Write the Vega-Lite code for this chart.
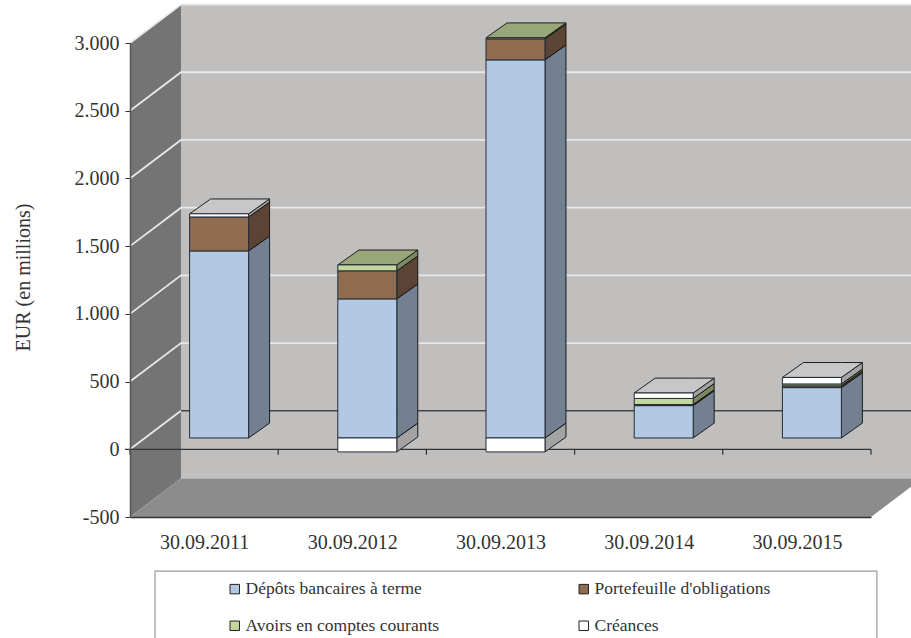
{
"$schema":"https://vega.github.io/schema/vega-lite/v6.json",
"width":741,"height":474,"autosize":"none",
"padding":{"left":130,"top":43,"right":40,"bottom":121},
"background":"#ffffff",
"config":{"view":{"stroke":null},"font":"Liberation Serif"},
"datasets":{
"bars":[
{"date":"30.09.2011","series":"Dépôts bancaires à terme","rank":1,"value":1381},
{"date":"30.09.2011","series":"Portefeuille d'obligations","rank":2,"value":251},
{"date":"30.09.2011","series":"Créances","rank":4,"value":23},
{"date":"30.09.2012","series":"Dépôts bancaires à terme","rank":1,"value":1027},
{"date":"30.09.2012","series":"Portefeuille d'obligations","rank":2,"value":207},
{"date":"30.09.2012","series":"Avoirs en comptes courants","rank":3,"value":44},
{"date":"30.09.2012","series":"Créances","rank":4,"value":-103},
{"date":"30.09.2013","series":"Dépôts bancaires à terme","rank":1,"value":2792},
{"date":"30.09.2013","series":"Portefeuille d'obligations","rank":2,"value":155},
{"date":"30.09.2013","series":"Avoirs en comptes courants","rank":3,"value":8},
{"date":"30.09.2013","series":"Créances","rank":4,"value":-103},
{"date":"30.09.2014","series":"Dépôts bancaires à terme","rank":1,"value":239},
{"date":"30.09.2014","series":"Portefeuille d'obligations","rank":2,"value":8},
{"date":"30.09.2014","series":"Avoirs en comptes courants","rank":3,"value":45},
{"date":"30.09.2014","series":"Créances","rank":4,"value":40},
{"date":"30.09.2015","series":"Dépôts bancaires à terme","rank":1,"value":372},
{"date":"30.09.2015","series":"Portefeuille d'obligations","rank":2,"value":13},
{"date":"30.09.2015","series":"Avoirs en comptes courants","rank":3,"value":14},
{"date":"30.09.2015","series":"Créances","rank":4,"value":48}
],
"sides":[
{"id":"a1","series":"Dépôts bancaires à terme","x":0.699,"lo":0,"hi":1381},{"id":"a1","series":"Dépôts bancaires à terme","x":0.8407,"lo":110,"hi":1491},
{"id":"a2","series":"Portefeuille d'obligations","x":0.699,"lo":1381,"hi":1632},{"id":"a2","series":"Portefeuille d'obligations","x":0.8407,"lo":1491,"hi":1742},
{"id":"a4","series":"Créances","x":0.699,"lo":1632,"hi":1655},{"id":"a4","series":"Créances","x":0.8407,"lo":1742,"hi":1765},
{"id":"b4","series":"Créances","x":1.699,"lo":-103,"hi":0},{"id":"b4","series":"Créances","x":1.8407,"lo":7,"hi":110},
{"id":"b1","series":"Dépôts bancaires à terme","x":1.699,"lo":0,"hi":1027},{"id":"b1","series":"Dépôts bancaires à terme","x":1.8407,"lo":110,"hi":1137},
{"id":"b2","series":"Portefeuille d'obligations","x":1.699,"lo":1027,"hi":1234},{"id":"b2","series":"Portefeuille d'obligations","x":1.8407,"lo":1137,"hi":1344},
{"id":"b3","series":"Avoirs en comptes courants","x":1.699,"lo":1234,"hi":1278},{"id":"b3","series":"Avoirs en comptes courants","x":1.8407,"lo":1344,"hi":1388},
{"id":"c4","series":"Créances","x":2.699,"lo":-103,"hi":0},{"id":"c4","series":"Créances","x":2.8407,"lo":7,"hi":110},
{"id":"c1","series":"Dépôts bancaires à terme","x":2.699,"lo":0,"hi":2792},{"id":"c1","series":"Dépôts bancaires à terme","x":2.8407,"lo":110,"hi":2902},
{"id":"c2","series":"Portefeuille d'obligations","x":2.699,"lo":2792,"hi":2947},{"id":"c2","series":"Portefeuille d'obligations","x":2.8407,"lo":2902,"hi":3057},
{"id":"c3","series":"Avoirs en comptes courants","x":2.699,"lo":2947,"hi":2955},{"id":"c3","series":"Avoirs en comptes courants","x":2.8407,"lo":3057,"hi":3065},
{"id":"d1","series":"Dépôts bancaires à terme","x":3.699,"lo":0,"hi":239},{"id":"d1","series":"Dépôts bancaires à terme","x":3.8407,"lo":110,"hi":349},
{"id":"d2","series":"Portefeuille d'obligations","x":3.699,"lo":239,"hi":247},{"id":"d2","series":"Portefeuille d'obligations","x":3.8407,"lo":349,"hi":357},
{"id":"d3","series":"Avoirs en comptes courants","x":3.699,"lo":247,"hi":292},{"id":"d3","series":"Avoirs en comptes courants","x":3.8407,"lo":357,"hi":402},
{"id":"d4","series":"Créances","x":3.699,"lo":292,"hi":332},{"id":"d4","series":"Créances","x":3.8407,"lo":402,"hi":442},
{"id":"e1","series":"Dépôts bancaires à terme","x":4.699,"lo":0,"hi":372},{"id":"e1","series":"Dépôts bancaires à terme","x":4.8407,"lo":110,"hi":482},
{"id":"e2","series":"Portefeuille d'obligations","x":4.699,"lo":372,"hi":385},{"id":"e2","series":"Portefeuille d'obligations","x":4.8407,"lo":482,"hi":495},
{"id":"e3","series":"Avoirs en comptes courants","x":4.699,"lo":385,"hi":399},{"id":"e3","series":"Avoirs en comptes courants","x":4.8407,"lo":495,"hi":509},
{"id":"e4","series":"Créances","x":4.699,"lo":399,"hi":447},{"id":"e4","series":"Créances","x":4.8407,"lo":509,"hi":557}
],
"tops":[
{"id":"a","series":"Créances","x":0.301,"lo":1655,"hi":1655},{"id":"a","series":"Créances","x":0.4427,"lo":1655,"hi":1765},{"id":"a","series":"Créances","x":0.699,"lo":1655,"hi":1765},{"id":"a","series":"Créances","x":0.8407,"lo":1765,"hi":1765},
{"id":"b","series":"Avoirs en comptes courants","x":1.301,"lo":1278,"hi":1278},{"id":"b","series":"Avoirs en comptes courants","x":1.4427,"lo":1278,"hi":1388},{"id":"b","series":"Avoirs en comptes courants","x":1.699,"lo":1278,"hi":1388},{"id":"b","series":"Avoirs en comptes courants","x":1.8407,"lo":1388,"hi":1388},
{"id":"c","series":"Avoirs en comptes courants","x":2.301,"lo":2955,"hi":2955},{"id":"c","series":"Avoirs en comptes courants","x":2.4427,"lo":2955,"hi":3065},{"id":"c","series":"Avoirs en comptes courants","x":2.699,"lo":2955,"hi":3065},{"id":"c","series":"Avoirs en comptes courants","x":2.8407,"lo":3065,"hi":3065},
{"id":"d","series":"Créances","x":3.301,"lo":332,"hi":332},{"id":"d","series":"Créances","x":3.4427,"lo":332,"hi":442},{"id":"d","series":"Créances","x":3.699,"lo":332,"hi":442},{"id":"d","series":"Créances","x":3.8407,"lo":442,"hi":442},
{"id":"e","series":"Créances","x":4.301,"lo":447,"hi":447},{"id":"e","series":"Créances","x":4.4427,"lo":447,"hi":557},{"id":"e","series":"Créances","x":4.699,"lo":447,"hi":557},{"id":"e","series":"Créances","x":4.8407,"lo":557,"hi":557}
]
},
"resolve":{"scale":{"x":"independent","y":"independent"}},
"layer":[
{
"encoding":{
"x":{"field":"x","type":"quantitative","scale":{"domain":[0,5],"nice":false,"zero":false},
"axis":{"values":[0.5,1.5,2.5,3.5,4.5],"labelExpr":"['30.09.2011','30.09.2012','30.09.2013','30.09.2014','30.09.2015'][floor(datum.value)]","title":null,"grid":false,"tickSize":0,"labelPadding":15,"labelFontSize":20,"labelFont":"Liberation Serif","labelColor":"#333333","domainColor":"#333333","domainWidth":1.5,"zindex":1,"labelOverlap":false,"labelFlush":false}},
"y":{"field":"lo","type":"quantitative","stack":null,"scale":{"domain":[-500,3000],"nice":false,"zero":false},
"axis":{"values":[-500,0,500,1000,1500,2000,2500,3000],"labelExpr":"(datum.value<0?'-':'')+replace(format(abs(datum.value),','),',','.')","title":"EUR (en millions)","titleFont":"Liberation Serif","titleFontSize":20,"titleFontWeight":"normal","titleColor":"#333333","titleX":-97,"titleY":234,"titleAnchor":"middle","grid":false,"tickSize":5,"tickColor":"#333333","labelPadding":6,"labelFontSize":20,"labelFont":"Liberation Serif","labelColor":"#333333","domainColor":"#555555","domainWidth":1.5,"zindex":1,"labelOverlap":false}}
},
"layer":[
{"data":{"values":[{"x":0,"lo":-500,"hi":3000},{"x":0.344,"lo":-216,"hi":3284}]},"mark":{"type":"area","orient":"vertical","fill":"#747474"},"encoding":{"y2":{"field":"hi"}}},
{"data":{"values":[{"x":0.344,"lo":-216,"hi":3284},{"x":5.4,"lo":-216,"hi":3284}]},"mark":{"type":"area","orient":"vertical","fill":"#c0bfbd"},"encoding":{"y2":{"field":"hi"}}},
{"data":{"values":[{"x":0,"lo":-500,"hi":-500},{"x":0.344,"lo":-500,"hi":-216},{"x":5,"lo":-500,"hi":-216},{"x":5.344,"lo":-216,"hi":-216}]},"mark":{"type":"area","orient":"vertical","fill":"#8c8c8c"},"encoding":{"y2":{"field":"hi"}}},
{"data":{"values":[
{"v":"g0","x":0,"lo":0},{"v":"g0","x":0.344,"lo":284},
{"v":"g1","x":0,"lo":500},{"v":"g1","x":0.344,"lo":784},{"v":"g1","x":5.4,"lo":784},
{"v":"g2","x":0,"lo":1000},{"v":"g2","x":0.344,"lo":1284},{"v":"g2","x":5.4,"lo":1284},
{"v":"g3","x":0,"lo":1500},{"v":"g3","x":0.344,"lo":1784},{"v":"g3","x":5.4,"lo":1784},
{"v":"g4","x":0,"lo":2000},{"v":"g4","x":0.344,"lo":2284},{"v":"g4","x":5.4,"lo":2284},
{"v":"g5","x":0,"lo":2500},{"v":"g5","x":0.344,"lo":2784},{"v":"g5","x":5.4,"lo":2784},
{"v":"g6","x":0,"lo":3000},{"v":"g6","x":0.344,"lo":3284},{"v":"g6","x":5.4,"lo":3284}
]},"mark":{"type":"line","stroke":"#e8e8e8","strokeWidth":1.8},"encoding":{"detail":{"field":"v"}}},
{"data":{"values":[{"x":0.344,"lo":284},{"x":5.4,"lo":284}]},"mark":{"type":"line","stroke":"#444444","strokeWidth":1.5}},
{"data":{"values":[{"x":-0.034,"lo":0},{"x":5,"lo":0}]},"mark":{"type":"line","stroke":"#333333","strokeWidth":1.3}},
{"data":{"values":[{"x":0,"lo":0,"hi":-40},{"x":1,"lo":0,"hi":-40},{"x":2,"lo":0,"hi":-40},{"x":3,"lo":0,"hi":-40},{"x":4,"lo":0,"hi":-40},{"x":5,"lo":0,"hi":-40}]},"mark":{"type":"rule","stroke":"#333333","strokeWidth":1.2},"encoding":{"y2":{"field":"hi"}}},
{"data":{"values":[{"x":0.1687,"x2":5.04,"lo":-899,"hi":-1410}]},"mark":{"type":"rect","fill":"#ffffff","stroke":"#999999","strokeWidth":1.2},"encoding":{"x2":{"field":"x2"},"y2":{"field":"hi"}}}
]
},
{
"encoding":{
"x":{"field":"x","type":"quantitative","axis":null,"scale":{"domain":[-0.1012,4.8988],"nice":false,"zero":false}},
"y":{"field":"lo","type":"quantitative","stack":null,"axis":null,"scale":{"domain":[-583.5,2916.5],"nice":false,"zero":false}},
"y2":{"field":"hi"},
"detail":{"field":"id"}
},
"layer":[
{"data":{"name":"sides"},"mark":{"type":"area","orient":"vertical","stroke":"#222222","strokeWidth":1},"encoding":{"color":{"field":"series","type":"nominal"}}},
{"data":{"name":"sides"},"mark":{"type":"area","orient":"vertical","fill":"#000000","opacity":0.36}},
{"data":{"name":"tops"},"mark":{"type":"area","orient":"vertical","stroke":"#222222","strokeWidth":1},"encoding":{"color":{"field":"series","type":"nominal"}}},
{"data":{"name":"tops"},"mark":{"type":"area","orient":"vertical","fill":"#000000","opacity":0.22}}
]
},
{
"data":{"name":"bars"},
"mark":{"type":"bar","stroke":"#222d3a","strokeWidth":1},
"encoding":{
"x":{"field":"date","type":"nominal","axis":null,"scale":{"domain":["30.09.2011","30.09.2012","30.09.2013","30.09.2014","30.09.2015"],"range":[15,756],"paddingInner":0.602,"paddingOuter":0.301}},
"y":{"field":"value","type":"quantitative","axis":null,"stack":"zero","scale":{"domain":[-583.5,2916.5],"nice":false,"zero":false}},
"order":{"field":"rank","type":"quantitative"},
"color":{"field":"series","type":"nominal",
"scale":{"domain":["Dépôts bancaires à terme","Portefeuille d'obligations","Avoirs en comptes courants","Créances"],"range":["#b3c9e3","#8f6b50","#c3d69b","#ffffff"]},
"legend":{"orient":"none","direction":"horizontal","legendX":96,"legendY":537,"columns":2,"title":null,"padding":0,"symbolType":"square","symbolSize":90,"symbolStrokeColor":"#222222","symbolStrokeWidth":1,"symbolOpacity":1,"labelFont":"Liberation Serif","labelFontSize":17.5,"labelColor":"#333333","labelLimit":400,"columnPadding":135,"rowPadding":18,"labelOffset":2}}
}
}
]
}
